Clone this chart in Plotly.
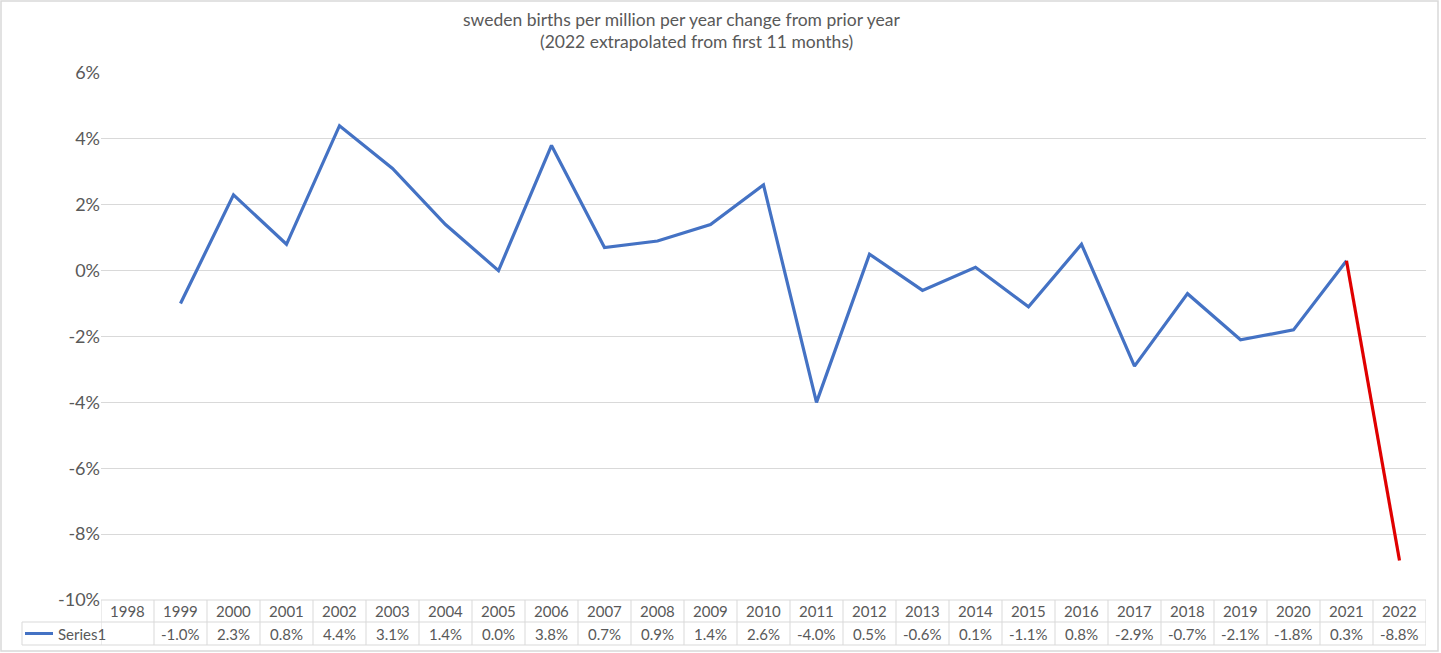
import plotly.graph_objects as go

years = list(range(1998, 2023))
values = [None, -1.0, 2.3, 0.8, 4.4, 3.1, 1.4, 0.0, 3.8, 0.7, 0.9, 1.4, 2.6, -4.0,
          0.5, -0.6, 0.1, -1.1, 0.8, -2.9, -0.7, -2.1, -1.8, 0.3, -8.8]
series_name = "Series1"
title_lines = ["sweden births per million per year change from prior year",
               "(2022 extrapolated from first 11 months)"]
y_ticks = [-10, -8, -6, -4, -2, 0, 2, 4, 6]

BLUE = "#4472c4"
RED = "#e00000"
GRID = "#d9d9d9"
TXT = "#595959"
FONT = "Lato"

W, H = 1441, 653
L, R, T, B = 101, 15, 73, 53
ph = H - T - B
pw = W - L - R

def py(pix):  # pixel y -> paper y
    return (H - B - pix) / ph

def px(pix):  # pixel x -> paper x
    return (pix - L) / pw

fig = go.Figure()
fig.add_trace(go.Scatter(x=years[:-1], y=values[:-1], mode="lines",
                         line=dict(color=BLUE, width=3.2), name=series_name,
                         connectgaps=False, hoverinfo="x+y"))
fig.add_trace(go.Scatter(x=years[-2:], y=values[-2:], mode="lines",
                         line=dict(color=RED, width=3.2), showlegend=False))

shapes = []
annotations = []
# outer chart border
shapes.append(dict(type="rect", xref="paper", yref="paper",
                   x0=px(1), x1=px(W - 3), y0=py(H - 2), y1=py(1),
                   line=dict(color=GRID, width=1.5)))
# table lines
y_top, y_mid, y_bot = 600, 622, 645
shapes.append(dict(type="line", xref="paper", yref="paper", x0=0, x1=1,
                   y0=py(y_top), y1=py(y_top), line=dict(color=GRID, width=1)))
for yy in (y_mid, y_bot):
    shapes.append(dict(type="line", xref="paper", yref="paper", x0=px(22), x1=1,
                       y0=py(yy), y1=py(yy), line=dict(color=GRID, width=1)))
shapes.append(dict(type="line", xref="paper", yref="paper", x0=px(22), x1=px(22),
                   y0=py(y_mid), y1=py(y_bot), line=dict(color=GRID, width=1)))
for i in range(len(years) + 1):
    xb = years[0] - 0.5 + i
    shapes.append(dict(type="line", xref="x", yref="paper", x0=xb, x1=xb,
                       y0=py(y_top), y1=py(y_bot), line=dict(color=GRID, width=1)))
# legend key
shapes.append(dict(type="line", xref="paper", yref="paper", x0=px(25), x1=px(53),
                   y0=py(633.5), y1=py(633.5), line=dict(color=BLUE, width=3)))
annotations.append(dict(x=px(56), y=py(633.5), xref="paper", yref="paper",
                        text=series_name, showarrow=False, xanchor="left",
                        yanchor="middle",
                        font=dict(size=15, color=TXT, family=FONT)))
for yr, v in zip(years, values):
    annotations.append(dict(x=yr, y=py(611), xref="x", yref="paper", text=str(yr),
                            showarrow=False, yanchor="middle",
                            font=dict(size=15, color=TXT, family=FONT)))
    if v is not None:
        annotations.append(dict(x=yr, y=py(633.5), xref="x", yref="paper",
                                text=f"{v:.1f}%", showarrow=False, yanchor="middle",
                                font=dict(size=15, color=TXT, family=FONT)))
# title
annotations.append(dict(x=px(681), y=py(20), xref="paper", yref="paper",
                        text=title_lines[0], showarrow=False, yanchor="middle",
                        font=dict(size=17.5, color=TXT, family=FONT)))
annotations.append(dict(x=px(696), y=py(42), xref="paper", yref="paper",
                        text=title_lines[1], showarrow=False, yanchor="middle",
                        font=dict(size=17.5, color=TXT, family=FONT)))

fig.update_layout(
    width=W, height=H,
    margin=dict(l=L, r=R, t=T, b=B),
    paper_bgcolor="white", plot_bgcolor="white",
    showlegend=False,
    shapes=shapes, annotations=annotations,
    xaxis=dict(range=[years[0] - 0.5, years[-1] + 0.5], showticklabels=False,
               showgrid=False, zeroline=False, showline=False, ticks=""),
    yaxis=dict(range=[-10, 6], tickvals=y_ticks,
               ticktext=[f"{v}%" for v in y_ticks],
               showgrid=True, gridcolor=GRID, gridwidth=1, zeroline=False,
               showline=False, ticks="", ticklen=0,
               tickfont=dict(size=18, color=TXT, family=FONT)),
    font=dict(family=FONT, color=TXT),
)

fig.write_html("out.html", config={"displayModeBar": False},
               post_script="document.body.style.margin='0';")
